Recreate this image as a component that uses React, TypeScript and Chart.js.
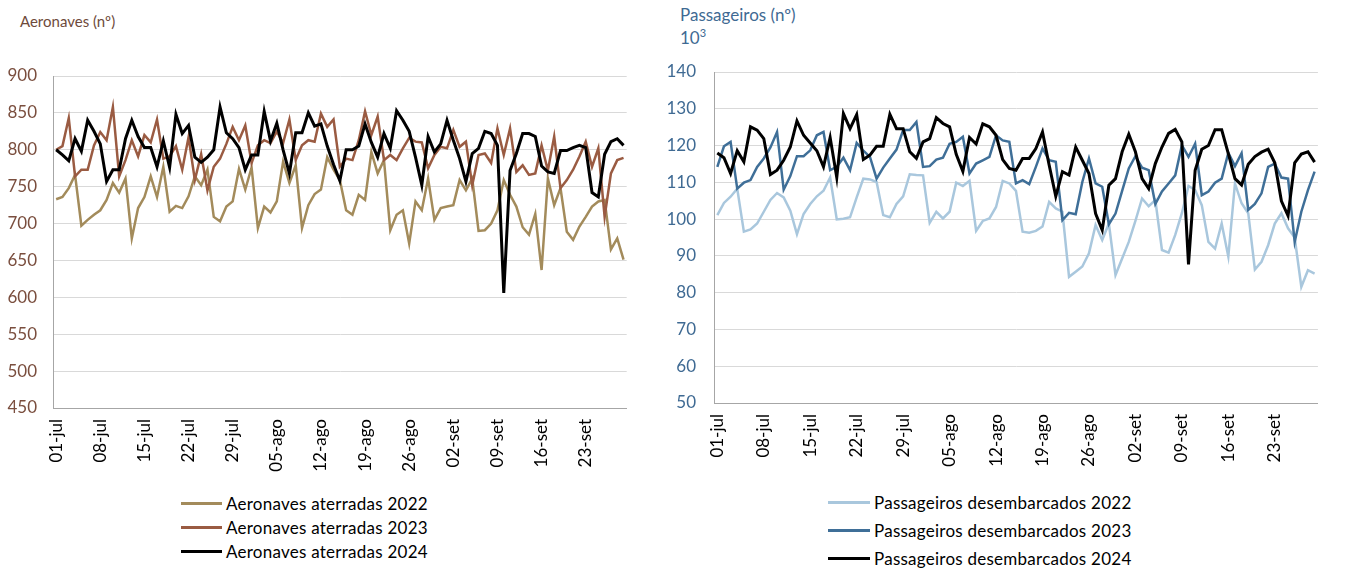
import React, { useEffect, useRef } from "react";
import { Chart, registerables } from "chart.js";

Chart.register(...registerables);

const FONT = "Lato, 'Open Sans', sans-serif";

// Categories: daily, 01-jul .. 29-set
const MONTHS: [string, number][] = [
  ["jul", 31],
  ["ago", 31],
  ["set", 29],
];
const CATEGORIES: string[] = [];
MONTHS.forEach(([m, n]) => {
  for (let d = 1; d <= n; d++) CATEGORIES.push(`${String(d).padStart(2, "0")}-${m}`);
});

const TICK_LABELS = [
  "01-jul", "08-jul", "15-jul", "22-jul", "29-jul", "05-ago", "12-ago",
  "19-ago", "26-ago", "02-set", "09-set", "16-set", "23-set",
];

// Aeronaves aterradas (nº)
const AER_2022 = [
  733, 736, 748, 766, 697, 705, 712, 718, 732, 755, 742, 761, 680, 721, 736, 764,
  736, 777, 716, 724, 721, 737, 764, 752, 773, 709, 703, 723, 730, 774, 746, 776,
  694, 723, 715, 730, 784, 755, 779, 694, 725, 740, 746, 790, 773, 759, 718, 712,
  739, 732, 797, 768, 786, 691, 712, 718, 673, 730, 718, 761, 705, 721, 723, 725,
  759, 745, 761, 690, 691, 700, 718, 759, 739, 723, 695, 685, 713, 637, 761, 725,
  748, 689, 678, 696, 709, 723, 730, 732, 665, 680, 651,
];
const AER_2023 = [
  800, 805, 843, 764, 773, 773, 806, 824, 813, 858, 764, 786, 813, 791, 820, 810,
  841, 788, 791, 805, 773, 817, 759, 794, 745, 777, 788, 808, 831, 813, 833, 782,
  806, 813, 809, 825, 809, 841, 786, 806, 813, 811, 849, 831, 841, 777, 788, 786,
  813, 852, 820, 845, 786, 793, 786, 802, 816, 811, 810, 775, 793, 804, 802, 827,
  804, 811, 752, 793, 795, 782, 829, 793, 829, 770, 779, 766, 768, 806, 772, 818,
  748, 759, 773, 791, 811, 777, 802, 709, 768, 786, 789,
];
const AER_2024 = [
  800, 793, 785, 815, 798, 840, 825, 808, 757, 773, 773, 815, 840, 818, 803, 803,
  777, 812, 776, 848, 822, 833, 790, 783, 790, 800, 858, 823, 815, 803, 773, 793,
  793, 852, 812, 836, 800, 768, 823, 823, 850, 832, 835, 805, 780, 758, 800, 800,
  805, 835, 810, 790, 822, 802, 853, 840, 825, 790, 752, 818, 797, 808, 840, 813,
  788, 757, 795, 802, 825, 822, 806, 606, 772, 795, 822, 822, 818, 778, 770, 768,
  799, 799, 803, 806, 803, 742, 736, 794, 811, 815, 806,
];

// Passageiros desembarcados (milhares)
const PAX_2022 = [
  101.1, 104.4, 106.1, 108.3, 96.6, 97.2, 98.8, 102, 105.2, 107.1, 105.9, 102.3,
  95.9, 101.4, 104.1, 106.2, 107.7, 111.3, 99.9, 100.1, 100.5, 105.9, 111, 110.8,
  110.1, 101.1, 100.5, 104.1, 106.2, 112.2, 112, 111.9, 99, 102, 100.2, 102,
  109.9, 109, 110.4, 96.8, 99.5, 100.2, 103.3, 110.4, 109.7, 107.7, 96.6, 96.3,
  96.8, 98, 104.7, 102.9, 102, 84.3, 85.7, 87.1, 90.7, 98.4, 94.3, 98.8,
  84.8, 89.3, 93.8, 99.5, 105.6, 103.5, 105.2, 91.6, 90.9, 95.7, 101.6, 109,
  107.9, 103.8, 93.8, 92, 98.8, 89.8, 109.7, 104.3, 101.6, 86.3, 88.4, 92.9,
  98.8, 101.6, 97.5, 95, 81.6, 86.1, 85.2,
];
const PAX_2023 = [
  114.2, 119.8, 121, 108.3, 109.9, 110.6, 114.2, 116.5, 119.5, 123.7, 108, 111.7,
  117.1, 117.1, 118.7, 122.8, 123.7, 113.3, 114.2, 116.7, 113.3, 120.7, 118.6, 116.9,
  111, 114, 116.5, 118.9, 124.2, 124.2, 126.4, 114.2, 114.4, 116.2, 116.7, 120.5,
  121, 122.4, 112.4, 115.1, 116, 116.9, 122.8, 121.4, 121, 109.7, 110.6, 109.5,
  114.2, 119.2, 116, 115.6, 99.7, 101.7, 101.3, 110.1, 116.5, 109.7, 108.8, 98.6,
  101.5, 107.7, 113.8, 117.1, 114, 113.3, 104.1, 107.5, 109.7, 111.9, 120.1, 116.9,
  120.5, 106.5, 107.5, 109.9, 111, 118, 114.4, 117.9, 102.5, 104.1, 107, 114.2,
  115.1, 111.3, 111, 93.8, 102, 107.9, 112.9,
];
const PAX_2024 = [
  118, 116.7, 112.4, 118.6, 115.6, 125.1, 124.2, 121.9, 112.1, 113.3, 116, 119.6,
  126.7, 122.8, 120.7, 118.6, 114.2, 122.2, 111.3, 128.7, 124.6, 128.4, 116.2, 117.4,
  119.8, 119.8, 128.5, 124.6, 124.6, 118.3, 116.5, 121, 121.9, 127.6, 126, 125.1,
  117.6, 113, 122.2, 120.4, 125.9, 125.1, 122.8, 116.2, 113.8, 113.3, 116.5, 116.5,
  119.2, 123.7, 114.7, 106.2, 112.9, 112, 119.6, 116, 112.4, 101.5, 97, 109.2,
  111, 118.3, 123.1, 118.3, 111, 108.3, 115.1, 119.6, 123.3, 124.4, 121, 87.7,
  113.3, 119, 120, 124.3, 124.3, 117.8, 111, 109.3, 114.9, 117, 118.2, 119,
  115.3, 104.9, 100.9, 115.3, 117.7, 118.3, 115.5,
];

const AER_LABELS = ["Aeronaves aterradas 2022", "Aeronaves aterradas 2023", "Aeronaves aterradas 2024"];
const PAX_LABELS = [
  "Passageiros desembarcados 2022",
  "Passageiros desembarcados 2023",
  "Passageiros desembarcados 2024",
];

const AER_COLORS = ["#A38B5B", "#9A5B42", "#000000"];
const PAX_COLORS = ["#A9C7DD", "#3F6F98", "#000000"];

type Panel = {
  series: number[][];
  labels: string[];
  colors: string[];
  min: number;
  max: number;
  step: number;
  tickColor: string;
  width: number;
  height: number;
  padTop: number;
  padRight: number;
  yWidth: number;
  yPad: number;
  xHeight: number;
};

function LineChart(p: Panel) {
  const ref = useRef<HTMLCanvasElement | null>(null);
  useEffect(() => {
    if (!ref.current) return;
    const tickSet = new Set(TICK_LABELS);
    const chart = new Chart(ref.current, {
      type: "line",
      data: {
        labels: CATEGORIES,
        datasets: p.series.map((s, i) => ({
          label: p.labels[i],
          data: s,
          borderColor: p.colors[i],
          backgroundColor: p.colors[i],
          borderWidth: i === 2 ? 3 : 2.5,
          pointRadius: 0,
          tension: 0,
          fill: false,
          order: 2 - i,
        })),
      },
      options: {
        responsive: false,
        animation: false,
        layout: { padding: { top: p.padTop, right: p.padRight, bottom: 0, left: 0 } },
        plugins: { legend: { display: false }, tooltip: { enabled: false } },
        scales: {
          x: {
            type: "category",
            offset: true,
            grid: { display: false, drawTicks: false },
            border: { display: true, color: "#A6A6A6", width: 1 },
            ticks: {
              autoSkip: false,
              minRotation: 90,
              maxRotation: 90,
              padding: 11,
              color: "#000000",
              font: { family: FONT, size: 17 },
              callback: (_v: any, i: number) => (tickSet.has(CATEGORIES[i]) ? CATEGORIES[i] : ""),
            },
            afterFit: (s: any) => {
              s.height = p.xHeight;
            },
          },
          y: {
            min: p.min,
            max: p.max,
            ticks: {
              stepSize: p.step,
              color: p.tickColor,
              padding: p.yPad,
              font: { family: FONT, size: 17 },
            },
            grid: { color: "#D9D9D9", lineWidth: 1, drawTicks: false },
            border: { display: true, color: "#A6A6A6", width: 1 },
            afterFit: (s: any) => {
              s.width = p.yWidth;
            },
          },
        },
      },
    } as any);
    return () => chart.destroy();
  }, []);
  return <canvas ref={ref} width={p.width} height={p.height} style={{ display: "block" }} />;
}

function Legend({
  labels,
  colors,
  left,
  tops,
  lineW,
}: {
  labels: string[];
  colors: string[];
  left: number;
  tops: number[];
  lineW: number;
}) {
  return (
    <>
      {labels.map((l, i) => (
        <div
          key={l}
          style={{
            position: "absolute",
            left,
            top: tops[i] - 12,
            height: 24,
            display: "flex",
            alignItems: "center",
            fontFamily: FONT,
            fontSize: 17,
            letterSpacing: 0.25,
            color: "#000",
            whiteSpace: "nowrap",
          }}
        >
          <span
            style={{
              display: "inline-block",
              width: lineW,
              height: 3,
              background: colors[i],
              marginRight: 4,
            }}
          />
          {l}
        </div>
      ))}
    </>
  );
}

export default function App() {
  return (
    <div
      style={{
        position: "absolute",
        left: 0,
        top: 0,
        width: 1346,
        height: 569,
        background: "#fff",
        overflow: "hidden",
        fontFamily: FONT,
      }}
    >
      <div style={{ position: "absolute", left: 20, top: 12, fontSize: 15, color: "#6E4A3B" }}>
        Aeronaves (nº)
      </div>
      <div style={{ position: "absolute", left: 0, top: 0 }}>
        <LineChart
          series={[AER_2022, AER_2023, AER_2024]}
          labels={AER_LABELS}
          colors={AER_COLORS}
          min={450}
          max={900}
          step={50}
          tickColor="#7A4E3E"
          width={655}
          height={480}
          padTop={76}
          padRight={11}
          yWidth={53}
          yPad={16}
          xHeight={72}
        />
      </div>
      <Legend labels={AER_LABELS} colors={AER_COLORS} left={181} tops={[503, 527, 551]} lineW={41} />

      <div style={{ position: "absolute", left: 680, top: 4, fontSize: 17, color: "#3F6A93" }}>
        Passageiros (nº)
      </div>
      <div style={{ position: "absolute", left: 680, top: 26, fontSize: 17, color: "#3F6A93" }}>
        10<sup style={{ fontSize: 11 }}>3</sup>
      </div>
      <div style={{ position: "absolute", left: 660, top: 0 }}>
        <LineChart
          series={[PAX_2022, PAX_2023, PAX_2024]}
          labels={PAX_LABELS}
          colors={PAX_COLORS}
          min={50}
          max={140}
          step={10}
          tickColor="#3F6A93"
          width={686}
          height={480}
          padTop={72}
          padRight={1}
          yWidth={54}
          yPad={18}
          xHeight={77}
        />
      </div>
      <Legend labels={PAX_LABELS} colors={PAX_COLORS} left={828} tops={[502, 530, 558]} lineW={42} />
    </div>
  );
}
